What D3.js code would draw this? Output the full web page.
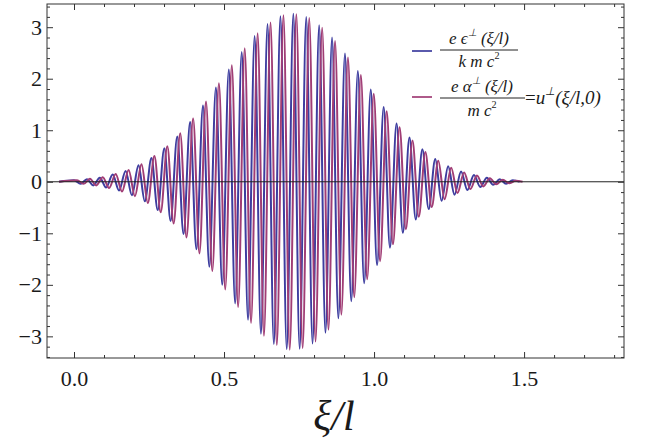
<!DOCTYPE html>
<html>
<head>
<meta charset="utf-8">
<script src="https://cdn.jsdelivr.net/npm/d3@7"></script>
<style>
  html, body { margin: 0; padding: 0; background: #fff; }
  svg { display: block; }
</style>
</head>
<body>
<div id="chart"></div>
<script>
'use strict';

var serif = '"Liberation Serif"';

// Crests / troughs of the two traces (xi/l, value)
var blueXi = [-0.05,
  0.000, 0.022, 0.043, 0.064, 0.086, 0.107, 0.129, 0.150, 0.172, 0.193,
  0.215, 0.236, 0.258, 0.279, 0.301, 0.322, 0.344, 0.365, 0.387, 0.408,
  0.430, 0.451, 0.473, 0.494, 0.516, 0.537, 0.559, 0.580, 0.602, 0.623,
  0.645, 0.666, 0.688, 0.709, 0.731, 0.752, 0.774, 0.795, 0.817, 0.838,
  0.860, 0.881, 0.903, 0.924, 0.946, 0.967, 0.989, 1.010, 1.032, 1.053,
  1.075, 1.096, 1.118, 1.139, 1.161, 1.182, 1.204, 1.225, 1.247, 1.268,
  1.290, 1.311, 1.333, 1.354, 1.376, 1.397, 1.419, 1.440, 1.462,
  1.485];
var blueVal = [0,
  0.03, -0.04, 0.05, -0.07, 0.08, -0.11, 0.14, -0.17, 0.21, -0.26,
  0.32, -0.38, 0.46, -0.55, 0.65, -0.76, 0.88, -1.01, 1.16, -1.31,
  1.48, -1.65, 1.83, -2.00, 2.18, -2.36, 2.52, -2.68, 2.83, -2.95,
  3.06, -3.15, 3.21, -3.25, 3.26, -3.24, 3.20, -3.14, 3.04, -2.93,
  2.80, -2.65, 2.49, -2.32, 2.15, -1.97, 1.79, -1.62, 1.45, -1.28,
  1.13, -0.99, 0.86, -0.73, 0.63, -0.53, 0.44, -0.37, 0.30, -0.25,
  0.20, -0.16, 0.13, -0.10, 0.08, -0.06, 0.05, -0.04, 0.03,
  0];

var redXi = [-0.05,
  0.010, 0.032, 0.053, 0.074, 0.096, 0.117, 0.139, 0.160, 0.182, 0.203,
  0.225, 0.246, 0.268, 0.289, 0.311, 0.332, 0.354, 0.375, 0.397, 0.418,
  0.440, 0.461, 0.483, 0.504, 0.526, 0.547, 0.569, 0.590, 0.612, 0.633,
  0.655, 0.676, 0.698, 0.719, 0.741, 0.762, 0.784, 0.805, 0.827, 0.848,
  0.870, 0.891, 0.913, 0.934, 0.956, 0.977, 0.999, 1.020, 1.042, 1.063,
  1.085, 1.106, 1.128, 1.149, 1.171, 1.192, 1.214, 1.235, 1.257, 1.278,
  1.300, 1.321, 1.343, 1.364, 1.386, 1.407, 1.429, 1.450, 1.472,
  1.495];
var redVal = [0,
  0.03, -0.04, 0.06, -0.07, 0.09, -0.12, 0.15, -0.19, 0.23, -0.28,
  0.34, -0.41, 0.50, -0.59, 0.69, -0.81, 0.94, -1.08, 1.23, -1.39,
  1.56, -1.73, 1.91, -2.09, 2.26, -2.43, 2.59, -2.74, 2.88, -2.99,
  3.09, -3.17, 3.23, -3.26, 3.25, -3.23, 3.18, -3.10, 2.99, -2.87,
  2.73, -2.58, 2.41, -2.24, 2.07, -1.89, 1.71, -1.54, 1.37, -1.21,
  1.06, -0.92, 0.80, -0.68, 0.58, -0.49, 0.41, -0.34, 0.27, -0.22,
  0.18, -0.14, 0.12, -0.09, 0.07, -0.05, 0.04, -0.03, 0.02,
  0];

// Ticks
var xMajor = [0, 0.5, 1, 1.5];
var xTickLabels = ['0.0', '0.5', '1.0', '1.5'];
var xMinor = [0.1, 0.2, 0.3, 0.4, 0.6, 0.7, 0.8, 0.9, 1.1, 1.2, 1.3, 1.4, 1.6, 1.7, 1.8];
var yMajor = [-3, -2, -1, 0, 1, 2, 3];
var yTickLabels = ['\u22123', '\u22122', '\u22121', '0', '1', '2', '3'];
var yMinor = [-3.4, -3.2, -2.8, -2.6, -2.4, -2.2, -1.8, -1.6, -1.4, -1.2, -0.8, -0.6, -0.4, -0.2,
  0.2, 0.4, 0.6, 0.8, 1.2, 1.4, 1.6, 1.8, 2.2, 2.4, 2.6, 2.8, 3.2, 3.4];

var width = 651, height = 443;
var margin = {top: 4, right: 27, bottom: 85, left: 47};
var innerWidth = width - margin.left - margin.right;
var innerHeight = height - margin.top - margin.bottom;

var blueColor = '#3d3d9f';
var redColor = '#a03d75';

var root = d3.select('#chart').append('svg')
  .attr('width', width)
  .attr('height', height);

var chart = root.append('g')
  .attr('transform', 'translate(' + margin.left + ',' + margin.top + ')');

var x = d3.scaleLinear().domain([-0.09, 1.833]).range([0, innerWidth]);
var y = d3.scaleLinear().domain([-3.42, 3.45]).range([innerHeight, 0]);

var line = d3.line()
  .x(function(d) { return x(d[0]); })
  .y(function(d) { return y(d[1]); })
  .curve(d3.curveMonotoneX);

function pairs(xs, vs) {
  return xs.map(function(v, i) { return [v, vs[i]]; });
}

// traces
chart.append('path')
  .datum(pairs(blueXi, blueVal))
  .attr('fill', 'none')
  .attr('stroke', blueColor)
  .attr('stroke-width', 2)
  .attr('d', line);

chart.append('path')
  .datum(pairs(redXi, redVal))
  .attr('fill', 'none')
  .attr('stroke', redColor)
  .attr('stroke-width', 2)
  .attr('d', line);

// zero axis
chart.append('line')
  .attr('x1', 0).attr('x2', innerWidth)
  .attr('y1', y(0)).attr('y2', y(0))
  .attr('stroke', '#222')
  .attr('stroke-width', 1);

// frame ticks, all pointing inward
function tickAxis(axis, values, size, labels, pad) {
  return axis
    .tickValues(values)
    .tickSize(-size)
    .tickPadding(pad || 0)
    .tickFormat(function(d, i) { return labels ? labels[i] : ''; });
}

var frameStyle = function(g) {
  g.select('.domain').remove();
  g.selectAll('line').attr('stroke', '#333');
  g.selectAll('text')
    .filter(function() { return this.textContent === ''; })
    .remove();
  g.selectAll('text')
    .style('font-family', serif)
    .attr('font-size', 22)
    .attr('fill', '#1a1a1a');
};

chart.append('g').attr('transform', 'translate(0,' + innerHeight + ')')
  .call(tickAxis(d3.axisBottom(x), xMajor, 6, xTickLabels, 12)).call(frameStyle);
chart.append('g').attr('transform', 'translate(0,' + innerHeight + ')')
  .call(tickAxis(d3.axisBottom(x), xMinor, 3)).call(frameStyle);
chart.append('g')
  .call(tickAxis(d3.axisTop(x), xMajor, 6)).call(frameStyle);
chart.append('g')
  .call(tickAxis(d3.axisTop(x), xMinor, 3)).call(frameStyle);

chart.append('g')
  .call(tickAxis(d3.axisLeft(y), yMajor, 6, yTickLabels, 5)).call(frameStyle);
chart.append('g')
  .call(tickAxis(d3.axisLeft(y), yMinor, 3)).call(frameStyle);
chart.append('g').attr('transform', 'translate(' + innerWidth + ',0)')
  .call(tickAxis(d3.axisRight(y), yMajor, 6)).call(frameStyle);
chart.append('g').attr('transform', 'translate(' + innerWidth + ',0)')
  .call(tickAxis(d3.axisRight(y), yMinor, 3)).call(frameStyle);

chart.append('rect')
  .attr('width', innerWidth)
  .attr('height', innerHeight)
  .attr('fill', 'none')
  .attr('stroke', '#333')
  .attr('stroke-width', 1);

// x label
root.append('text')
  .attr('x', 334)
  .attr('y', 430)
  .attr('text-anchor', 'middle')
  .attr('font-size', 42)
  .style('font-family', serif)
  .style('font-style', 'italic')
  .attr('fill', '#1a1a1a')
  .text('\u03be/l');

// text with raised parts (superscripts)
function richText(g, px, py, size, parts, anchor) {
  var t = g.append('text')
    .attr('x', px).attr('y', py)
    .attr('font-size', size)
    .attr('fill', '#1a1a1a')
    .style('font-family', serif)
    .style('font-style', 'italic')
    .attr('text-anchor', anchor || 'middle');
  var shift = 0;
  parts.forEach(function(p) {
    var want = p.sup ? -size * 0.45 : 0;
    var s = t.append('tspan')
      .attr('dy', want - shift)
      .attr('font-size', p.sup ? size * 0.6 : size)
      .text(p.t);
    if (p.upright) s.style('font-style', 'normal');
    shift = want;
  });
  return t;
}

// legend
var legend = root.append('g');

legend.append('line')
  .attr('x1', 412).attr('x2', 432).attr('y1', 51).attr('y2', 51)
  .attr('stroke', blueColor).attr('stroke-width', 1.7);
richText(legend, 479, 44, 17, [
  {t: 'e \u03f5'}, {t: '\u22a5', sup: true}, {t: ' (\u03be/l)'}
]);
legend.append('line')
  .attr('x1', 440).attr('x2', 518).attr('y1', 50).attr('y2', 50)
  .attr('stroke', '#222');
richText(legend, 479, 67, 17, [
  {t: 'k m c'}, {t: '2', sup: true, upright: true}
]);

legend.append('line')
  .attr('x1', 412).attr('x2', 432).attr('y1', 97).attr('y2', 97)
  .attr('stroke', redColor).attr('stroke-width', 1.7);
richText(legend, 482, 92, 17, [
  {t: 'e \u03b1'}, {t: '\u22a5', sup: true}, {t: ' (\u03be/l)'}
]);
legend.append('line')
  .attr('x1', 440).attr('x2', 525).attr('y1', 98).attr('y2', 98)
  .attr('stroke', '#222');
richText(legend, 482, 116, 17, [
  {t: 'm c'}, {t: '2', sup: true, upright: true}
]);
richText(legend, 525, 104, 19, [
  {t: '=', upright: true}, {t: 'u'}, {t: '\u22a5', sup: true}, {t: '(\u03be/l,0)'}
], 'start');
</script>
</body>
</html>
